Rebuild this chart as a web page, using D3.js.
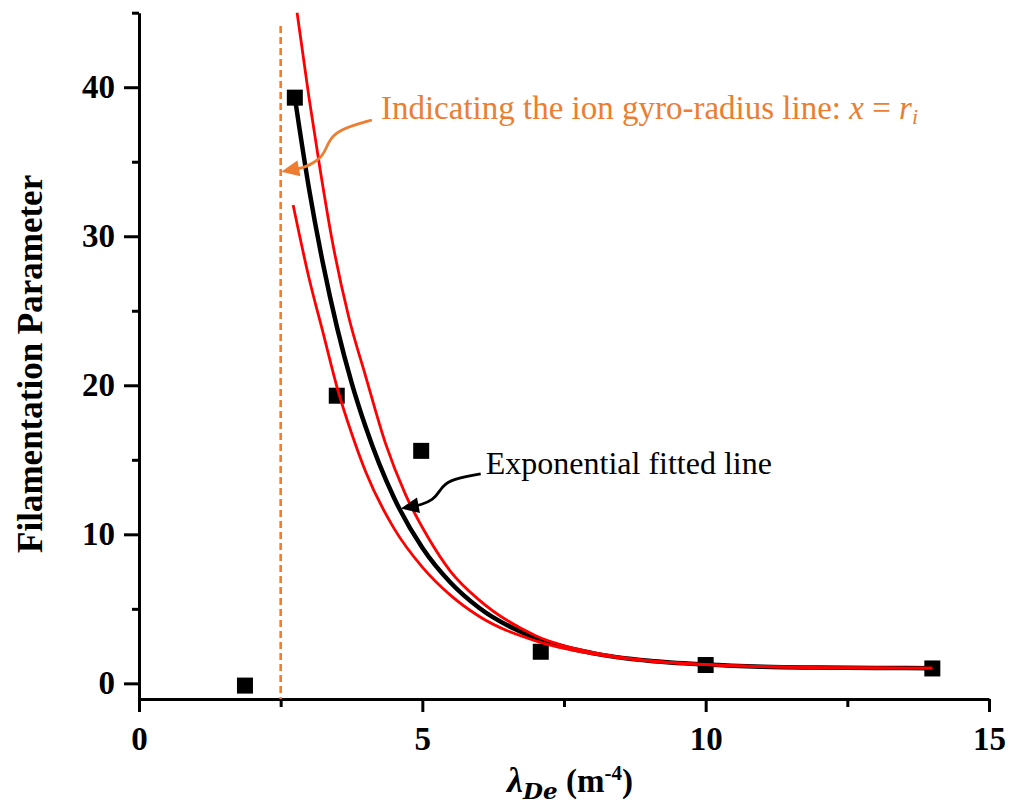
<!DOCTYPE html>
<html>
<head>
<meta charset="utf-8">
<script src="https://cdn.jsdelivr.net/npm/d3@7"></script>
<style>
  html, body { margin: 0; padding: 0; background: #fff; }
  svg { display: block; }
</style>
</head>
<body>
<script>
(()=>{
    const width = 1012;
    const height = 809;
    const marginTop = 12.7;
    const marginRight = 23;
    const marginBottom = 110;
    const marginLeft = 139;

    // tick values
    const xTicks = [0, 5, 10, 15];
    const xMinor = [2.5, 7.5, 12.5];
    const yTicks = [0, 10, 20, 30, 40];
    const yMinor = [5, 15, 25, 35, 45];

    // measured points
    const lambdaDe = [1.87, 2.75, 3.49, 4.98, 7.09, 10.0, 14.0];
    const filament = [-0.15, 39.3, 19.3, 15.6, 2.12, 1.23, 1.0];

    // exponential fitted line
    const fitX = [2.75, 3.0, 3.25, 3.5, 3.75, 4.0, 4.5, 5.0, 5.5, 6.0, 7.0, 8.0, 9.0, 10, 11, 12, 13, 14];
    const fitY = [39.3, 33.2, 28.1, 23.8, 20.2, 17.2, 12.45, 9.1, 6.75, 5.07, 3.04, 2.03, 1.51, 1.26, 1.12, 1.06, 1.03, 1.02];

    // upper / lower red bands
    const upperX = [2.79, 3.0, 3.2, 3.4, 3.7, 4.0, 4.35, 4.7, 5.1, 5.5, 6.0, 7.0, 8.0, 9.0, 10, 11, 12, 13, 14];
    const upperY = [45, 39.3, 34.4, 29.9, 24.6, 20.6, 16.1, 12.7, 9.8, 7.5, 5.6, 3.2, 2.08, 1.53, 1.27, 1.12, 1.06, 1.03, 1.02];
    const lowerX = [2.72, 3.0, 3.25, 3.5, 3.75, 4.0, 4.5, 5.0, 5.5, 6.0, 7.0, 8.0, 9.0, 10, 11, 12, 13, 14];
    const lowerY = [32.1, 27.2, 23.5, 19.8, 16.8, 14.2, 10.4, 7.8, 5.9, 4.5, 2.85, 1.98, 1.5, 1.25, 1.12, 1.06, 1.03, 1.02];

    // ion gyro-radius line
    const gyroX = 2.5;
    const gyroTop = 44.1;

    // annotation arrows (in data units), last point is the tip
    const orangeArrow = [[4.11, 37.8], [3.49, 37.13], [3.33, 36.26], [3.25, 35.32], [2.96, 34.65], [2.51, 34.32]];
    const blackArrow = [[6.03, 14.05], [5.43, 13.64], [5.31, 12.91], [5.19, 12.3], [4.96, 11.97], [4.62, 11.73]];

    const serif = "'Liberation Serif', 'Times New Roman', serif";
    const orange = "#ED7D31";

    const x = d3.scaleLinear()
        .domain([0, 15])
        .range([marginLeft, width - marginRight]);

    const y = d3.scaleLinear()
        .domain([-1.05, 45])
        .range([height - marginBottom, marginTop]);

    const svg = d3.create("svg")
        .attr("width", width)
        .attr("height", height)
        .attr("viewBox", [0, 0, width, height])
        .style("background", "#fff");

    // axes
    const styleAxis = g => {
        g.selectAll(".domain").attr("stroke", "#000").attr("stroke-width", 3);
        g.selectAll(".tick line").attr("stroke", "#000").attr("stroke-width", 3);
        g.selectAll(".tick text")
            .attr("font-family", serif)
            .attr("font-weight", "bold")
            .attr("font-size", 33)
            .attr("fill", "#000");
    };

    svg.append("g")
        .attr("transform", `translate(0,${height - marginBottom})`)
        .call(d3.axisBottom(x).tickValues(xMinor).tickSize(8).tickFormat(""))
        .call(g => g.select(".domain").remove())
        .call(styleAxis);

    svg.append("g")
        .attr("transform", `translate(${marginLeft},0)`)
        .call(d3.axisLeft(y).tickValues(yMinor).tickSize(7).tickFormat(""))
        .call(g => g.select(".domain").remove())
        .call(styleAxis);

    svg.append("g")
        .attr("transform", `translate(0,${height - marginBottom})`)
        .call(d3.axisBottom(x).tickValues(xTicks).tickSize(13).tickSizeOuter(0).tickPadding(15).tickFormat(d3.format("d")))
        .call(styleAxis)
        .call(g => g.selectAll(".tick text").attr("dy", "0.7em"));

    svg.append("g")
        .attr("transform", `translate(${marginLeft},0)`)
        .call(d3.axisLeft(y).tickValues(yTicks).tickSize(15).tickSizeOuter(0).tickPadding(9).tickFormat(d3.format("d")))
        .call(styleAxis);

    // axis titles
    svg.append("text")
        .attr("transform", `translate(42,${(y(45) + y(-1.05)) / 2 + 8}) rotate(-90)`)
        .attr("text-anchor", "middle")
        .attr("font-family", serif)
        .attr("font-weight", "bold")
        .attr("font-size", 35)
        .text("Filamentation Parameter");

    const xt = svg.append("text")
        .attr("x", (x(0) + x(15)) / 2 + 6)
        .attr("y", height - 17)
        .attr("text-anchor", "middle")
        .attr("font-family", serif)
        .attr("font-weight", "bold")
        .attr("font-size", 33);
    xt.append("tspan").attr("font-style", "italic").attr("font-size", 36).text("λ");
    xt.append("tspan").attr("font-style", "italic").attr("font-size", 23)
        .attr("font-family", "'DejaVu Serif', serif").attr("dy", 7).text("De");
    xt.append("tspan").attr("dy", -7).text(" (m");
    xt.append("tspan").attr("font-size", 21).attr("dy", -12).text("-4");
    xt.append("tspan").attr("dy", 12).text(")");

    // gyro-radius dashed line
    svg.append("line")
        .attr("x1", x(gyroX)).attr("x2", x(gyroX))
        .attr("y1", y(gyroTop)).attr("y2", y(-1.05))
        .attr("stroke", orange)
        .attr("stroke-width", 2.6)
        .attr("stroke-dasharray", "7,4");

    // data squares
    const pts = lambdaDe.map((d, i) => [d, filament[i]]);
    svg.append("g")
        .selectAll("rect")
        .data(pts)
        .join("rect")
        .attr("x", d => x(d[0]) - 8)
        .attr("y", d => y(d[1]) - 8)
        .attr("width", 16)
        .attr("height", 16)
        .attr("fill", "#000");

    const line = d3.line()
        .x(d => x(d[0]))
        .y(d => y(d[1]))
        .curve(d3.curveMonotoneX);

    svg.append("path")
        .attr("d", line(fitX.map((d, i) => [d, fitY[i]])))
        .attr("fill", "none")
        .attr("stroke", "#000")
        .attr("stroke-width", 4.5);

    [[upperX, upperY], [lowerX, lowerY]].forEach(([xs, ys]) => {
        svg.append("path")
            .attr("d", line(xs.map((d, i) => [d, ys[i]])))
            .attr("fill", "none")
            .attr("stroke", "#FF0000")
            .attr("stroke-width", 2.8);
    });

    // annotations: curved stem + solid triangular head
    const arrowLine = d3.line().curve(d3.curveBasis);
    const drawArrow = (pts, color) => {
        const p = pts.map(d => [x(d[0]), y(d[1])]);
        const tip = p[p.length - 1];
        const prev = p[p.length - 2];
        const ang = Math.atan2(tip[1] - prev[1], tip[0] - prev[0]);
        const len = 18, half = 8;
        const base = [tip[0] - len * Math.cos(ang), tip[1] - len * Math.sin(ang)];
        const stem = p.slice(0, -1).concat([[base[0] + 2 * Math.cos(ang), base[1] + 2 * Math.sin(ang)]]);
        svg.append("path")
            .attr("d", arrowLine(stem))
            .attr("fill", "none")
            .attr("stroke", color)
            .attr("stroke-width", 2.8);
        svg.append("path")
            .attr("d", `M${tip}L${base[0] + half * Math.sin(ang)},${base[1] - half * Math.cos(ang)}L${base[0] - half * Math.sin(ang)},${base[1] + half * Math.cos(ang)}Z`)
            .attr("fill", color);
    };
    drawArrow(orangeArrow, orange);
    drawArrow(blackArrow, "#000");

    const ot = svg.append("text")
        .attr("x", x(4.27))
        .attr("y", y(37.9))
        .attr("font-family", serif)
        .attr("font-size", 33)
        .attr("fill", orange);
    ot.append("tspan").text("Indicating the ion gyro-radius line: ");
    ot.append("tspan").attr("font-style", "italic").text("x");
    ot.append("tspan").text(" = ");
    ot.append("tspan").attr("font-style", "italic").text("r");
    ot.append("tspan").attr("font-style", "italic").attr("font-size", 22).attr("dy", 5).text("i");

    svg.append("text")
        .attr("x", x(6.12))
        .attr("y", y(14.05))
        .attr("font-family", serif)
        .attr("font-size", 32)
        .attr("fill", "#000")
        .text("Exponential fitted line");

    d3.select("body").append(() => svg.node());
})()
</script>
</body>
</html>
